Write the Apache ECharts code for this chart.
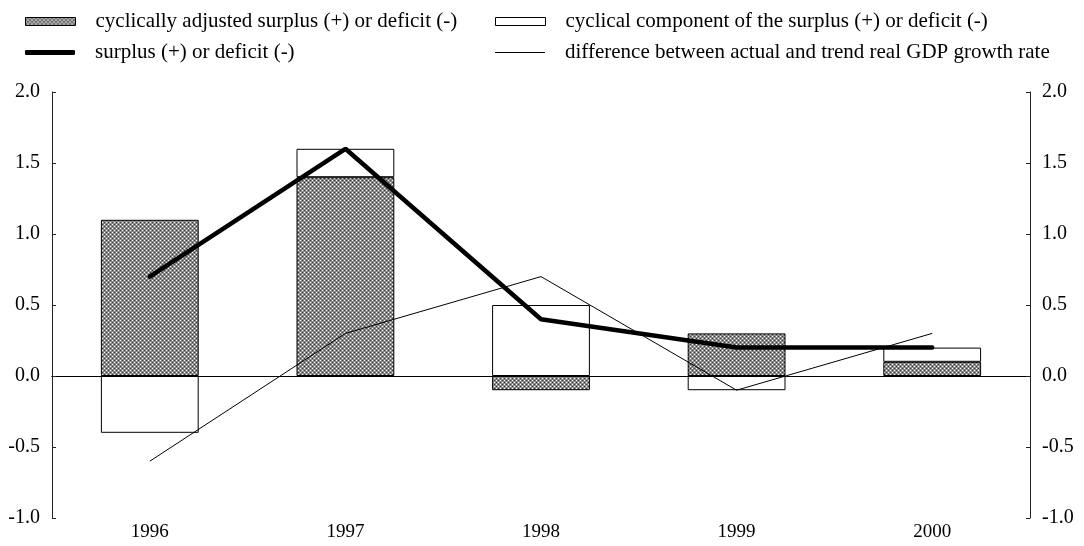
<!DOCTYPE html>
<html>
<head>
<meta charset="utf-8">
<script src="https://cdn.jsdelivr.net/npm/echarts@6/dist/echarts.min.js"></script>
<style>html,body{margin:0;padding:0;background:#fff}#c{width:1084px;height:546px}</style>
</head>
<body>
<div id="c"></div>
<script>
const categories = ['1996', '1997', '1998', '1999', '2000'];
const cyclicallyAdjusted = [1.1, 1.4, -0.1, 0.3, 0.1];
const cyclicalComponent = [-0.4, 0.2, 0.5, -0.1, 0.1];
const surplus = [0.7, 1.6, 0.4, 0.2, 0.2];
const gdpGap = [-0.6, 0.3, 0.7, -0.1, 0.3];
const names = [
  'cyclically adjusted surplus (+) or deficit (-)',
  'cyclical component of the surplus (+) or deficit (-)',
  'surplus (+) or deficit (-)',
  'difference between actual and trend real GDP growth rate'
];

// hatch pattern
const pc = document.createElement('canvas');
pc.width = 4; pc.height = 4;
const g = pc.getContext('2d');
g.fillStyle = '#8a8a8a'; g.fillRect(0, 0, 4, 4);
g.fillStyle = '#ffffff'; g.fillRect(0, 0, 1, 1); g.fillRect(2, 2, 1, 1);
g.fillStyle = '#3c3c3c'; g.fillRect(2, 0, 1, 1); g.fillRect(0, 2, 1, 1);
const hatch = { image: pc, repeat: 'repeat' };

const font = 'Liberation Serif';
const txt = { fontFamily: font, fontSize: 20, color: '#000' };

function legend(name, left, top, w, h, icon) {
  return {
    data: [name], left: left, top: top, itemWidth: w, itemHeight: h, icon: icon,
    itemStyle: { borderWidth: 1 },
    textStyle: Object.assign({}, txt, { fontSize: 21, lineHeight: 20, padding: [0, 0, 0, 15] }),
    selectedMode: false, padding: 0
  };
}

const chart = echarts.init(document.getElementById('c'));
chart.setOption({
  animation: false,
  backgroundColor: '#fff',
  legend: [
    legend(names[0], 25, 11, 50, 8, 'rect'),
    legend(names[1], 495, 11, 50, 8, 'rect'),
    legend(names[2], 25, 42, 50, 5, 'roundRect'),
    legend(names[3], 495, 42, 50, 1, 'rect')
  ],
  grid: { left: 52, right: 54, top: 92, bottom: 28 },
  xAxis: [
    { type: 'category', data: categories, position: 'bottom',
      axisLine: { onZero: true, lineStyle: { color: '#000', width: 1 } },
      axisTick: { inside: true, length: 4, lineStyle: { color: '#000' } },
      axisLabel: { show: false }, splitLine: { show: false } },
    { type: 'category', data: categories, position: 'bottom',
      axisLine: { onZero: true, lineStyle: { color: '#000', width: 1 } },
      axisTick: { inside: false, length: 5, lineStyle: { color: '#000' } },
      axisLabel: { show: false }, splitLine: { show: false } },
    { type: 'category', data: categories, position: 'bottom',
      axisLine: { show: false, onZero: false }, axisTick: { show: false },
      axisLabel: Object.assign({}, txt, { fontSize: 19, margin: 5 }), splitLine: { show: false } }
  ],
  yAxis: [
    { type: 'value', min: -1, max: 2, interval: 0.5, position: 'left',
      axisLine: { show: true, onZero: false, lineStyle: { color: '#222' } },
      axisTick: { show: true, inside: true, length: 4, lineStyle: { color: '#222' } },
      axisLabel: Object.assign({}, txt, { margin: 12, formatter: v => v.toFixed(1) }),
      splitLine: { show: false } },
    { type: 'value', min: -1, max: 2, interval: 0.5, position: 'right',
      axisLine: { show: true, onZero: false, lineStyle: { color: '#222' } },
      axisTick: { show: true, inside: true, length: 4, lineStyle: { color: '#222' } },
      axisLabel: Object.assign({}, txt, { margin: 12, formatter: v => v.toFixed(1) }),
      splitLine: { show: false } }
  ],
  series: [
    { name: names[0], type: 'bar', stack: 'a', data: cyclicallyAdjusted, barWidth: '50%',
      itemStyle: { color: hatch, borderColor: '#000', borderWidth: 1 }, z: 2 },
    { name: names[1], type: 'bar', stack: 'a', data: cyclicalComponent, barWidth: '50%',
      itemStyle: { color: '#fff', borderColor: '#000', borderWidth: 1 }, z: 2 },
    { name: names[2], type: 'line', data: surplus, showSymbol: false, symbol: 'none',
      lineStyle: { color: '#000', width: 4.5, cap: 'round' }, itemStyle: { color: '#000' }, z: 4 },
    { name: names[3], type: 'line', data: gdpGap, showSymbol: false, symbol: 'none',
      lineStyle: { color: '#000', width: 1 }, itemStyle: { color: '#000' }, z: 3 }
  ]
});
</script>
</body>
</html>
